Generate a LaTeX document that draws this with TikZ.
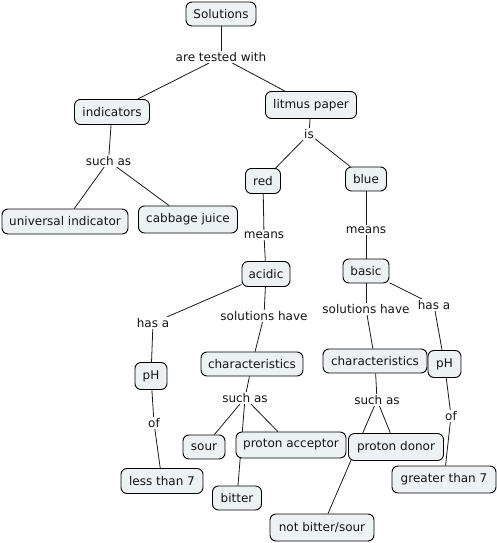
\documentclass[tikz,border=0pt]{standalone}
\usepackage{fontspec}
\setmainfont{DejaVu Sans}
\usetikzlibrary{backgrounds}
\definecolor{boxfill}{RGB}{236,242,244}
\definecolor{txt}{RGB}{20,20,20}
\tikzset{
  concept/.style={draw=black, line width=0.9pt, fill=boxfill, rounded corners=6pt,
    inner sep=0pt, text=txt, font=\fontsize{12}{14}\selectfont},
  linklbl/.style={fill=white, inner sep=1.2pt, text=txt, font=\fontsize{12}{14}\selectfont},
  conn/.style={draw=black!90, line width=0.8pt}
}
\begin{document}
\begin{tikzpicture}[x=1pt,y=-1pt]
\useasboundingbox (0,0) rectangle (497,543);
% concepts
\node[concept, minimum width=70, minimum height=24] (sol) at (221,14) {Solutions};
\node[concept, minimum width=75, minimum height=25] (ind) at (112,112) {indicators};
\node[concept, minimum width=91, minimum height=27] (lit) at (311,105) {litmus paper};
\node[concept, minimum width=126, minimum height=25] (uni) at (65,221.5) {universal indicator};
\node[concept, minimum width=99, minimum height=27] (cab) at (188,219.5) {cabbage juice};
\node[concept, minimum width=35, minimum height=25] (red) at (263,181) {red};
\node[concept, minimum width=41, minimum height=24] (blue) at (366,179) {blue};
\node[concept, minimum width=48, minimum height=25] (acid) at (266,274) {acidic};
\node[concept, minimum width=46, minimum height=24] (basic) at (366,271) {basic};
\node[concept, minimum width=32, minimum height=27] (phl) at (151,376) {pH};
\node[concept, minimum width=102, minimum height=24] (chl) at (252,364) {characteristics};
\node[concept, minimum width=104, minimum height=24] (chr) at (375,361) {characteristics};
\node[concept, minimum width=33, minimum height=27] (phr) at (444.5,364) {pH};
\node[concept, minimum width=42, minimum height=24] (sour) at (204,447) {sour};
\node[concept, minimum width=110, minimum height=26] (pacc) at (291,445) {proton acceptor};
\node[concept, minimum width=82, minimum height=25] (lt7) at (162,481) {less than 7};
\node[concept, minimum width=49, minimum height=24] (bitter) at (237,498) {bitter};
\node[concept, minimum width=104, minimum height=27] (nbs) at (322,527.5) {not bitter/sour};
\node[concept, minimum width=95, minimum height=27] (pdon) at (396,447) {proton donor};
\node[concept, minimum width=104, minimum height=27] (gt7) at (444,479.5) {greater than 7};
% link labels
\node[linklbl] (l1) at (221,57) {are tested with};
\node[linklbl] (l2) at (309,134) {is};
\node[linklbl] (l3) at (108.5,161) {such as};
\node[linklbl] (l4) at (264,235) {means};
\node[linklbl] (l5) at (366,230) {means};
\node[linklbl] (l6) at (153,323) {has a};
\node[linklbl] (l7) at (264,316) {solutions have};
\node[linklbl] (l8) at (245,398) {such as};
\node[linklbl] (l9) at (154,423) {of};
\node[linklbl] (l10) at (366,309) {solutions have};
\node[linklbl] (l11) at (434,305) {has a};
\node[linklbl] (l12) at (377,400) {such as};
\node[linklbl] (l13) at (451,416) {of};
% connectors
\begin{pgfonlayer}{background}
\draw[conn] (sol) -- (l1);
\draw[conn] (l1) -- (ind);
\draw[conn] (l1) -- (lit);
\draw[conn] (lit) -- (l2);
\draw[conn] (l2) -- (red);
\draw[conn] (l2) -- (blue);
\draw[conn] (ind) -- (l3);
\draw[conn] (l3) -- (uni);
\draw[conn] (l3) -- (cab);
\draw[conn] (red) -- (l4);
\draw[conn] (l4) -- (acid);
\draw[conn] (blue) -- (l5);
\draw[conn] (l5) -- (basic);
\draw[conn] (acid) -- (l6);
\draw[conn] (l6) -- (phl);
\draw[conn] (acid) -- (l7);
\draw[conn] (l7) -- (chl);
\draw[conn] (phl) -- (l9);
\draw[conn] (l9) -- (lt7);
\draw[conn] (chl) -- (l8);
\draw[conn] (l8) -- (sour);
\draw[conn] (l8) -- (pacc);
\draw[conn] (l8) -- (bitter);
\draw[conn] (basic) -- (l10);
\draw[conn] (l10) -- (chr);
\draw[conn] (basic) -- (l11);
\draw[conn] (l11) -- (phr);
\draw[conn] (phr) -- (l13);
\draw[conn] (l13) -- (gt7);
\draw[conn] (chr) -- (l12);
\draw[conn] (l12) -- (pdon);
\draw[conn] (l12) -- (nbs);
\end{pgfonlayer}
\end{tikzpicture}
\end{document}
